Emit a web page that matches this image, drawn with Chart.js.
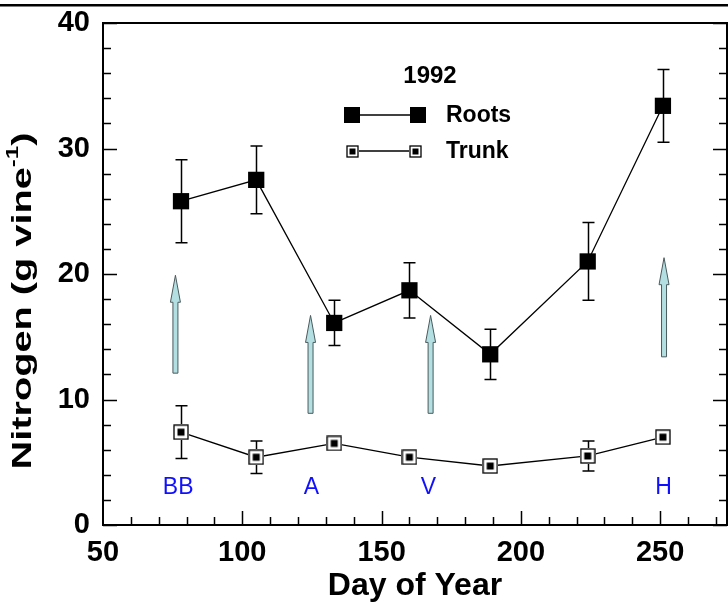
<!DOCTYPE html>
<html>
<head>
<meta charset="utf-8">
<script src="https://cdn.jsdelivr.net/npm/chart.js@4/dist/chart.umd.min.js"></script>
<style>
html,body{margin:0;padding:0;background:#fff;}
#wrap{width:728px;height:605px;position:relative;}
</style>
</head>
<body>
<div id="wrap"><canvas id="linegraph" width="728" height="605"></canvas></div>
<script>
// data
var days = [78, 105, 133, 160, 189, 224, 251];
var roots = [25.8, 27.5, 16.1, 18.7, 13.6, 21.0, 33.4];
var rootsErr = [3.3, 2.7, 1.8, 2.2, 2.0, 3.1, 2.9];
var trunk = [7.4, 5.4, 6.5, 5.4, 4.7, 5.5, 7.0];
var trunkErr = [2.1, 1.3, 0, 0, 0, 1.2, 0];
var stageDays = [77, 124.8, 166.8, 251.2];
var stageLabels = ["BB", "A", "V", "H"];
var arrowDays = [76, 124.5, 167.6, 251.4];
var arrowFrom = [12.1, 8.9, 8.9, 13.4];
var arrowTo = [19.9, 16.7, 16.7, 21.3];
var xTicks = [50, 100, 150, 200, 250];
var yTicks = [0, 10, 20, 30, 40];

var FONT = "'Liberation Sans', Arial, sans-serif";

// open square with small filled square inside
function trunkMarker(size, inner){
    var c = document.createElement("canvas");
    c.width = size; c.height = size;
    var g = c.getContext("2d");
    g.fillStyle = "#fff";
    g.fillRect(0, 0, size, size);
    g.strokeStyle = "#000";
    g.lineWidth = 1.3;
    g.strokeRect(1, 1, size - 2, size - 2);
    g.fillStyle = "#000";
    var o = (size - inner) / 2;
    g.fillRect(o, o, inner, inner);
    return c;
}
var trunkImg = trunkMarker(16, 7);
var trunkImgSmall = trunkMarker(13, 6);

function pts(ys){
    var out = [];
    for (var i in days) out.push({x: days[i], y: ys[i]});
    return out;
}

var decor = {
    id: "decor",
    beforeDatasetsDraw: function(chart){
        var ctx = chart.ctx, xs = chart.scales.x, ys = chart.scales.y;
        var a = chart.chartArea;
        ctx.save();
        // page rule at top
        ctx.fillStyle = "#000";
        ctx.fillRect(0, 4, 728, 2.5);
        // frame
        ctx.strokeStyle = "#000";
        ctx.lineWidth = 2;
        ctx.strokeRect(a.left, a.top, a.right - a.left, a.bottom - a.top);
        // inward ticks
        ctx.lineWidth = 1.5;
        ctx.beginPath();
        for (var v = 0; v <= 40; v += 2){
            var py = Math.round(ys.getPixelForValue(v)) + 0.5;
            var len = (v % 10 === 0) ? 14 : 8;
            ctx.moveTo(a.left, py); ctx.lineTo(a.left + len, py);
            ctx.moveTo(a.right, py); ctx.lineTo(a.right - len, py);
        }
        for (var d = 60; d <= 270; d += 10){
            var px = Math.round(xs.getPixelForValue(d)) + 0.5;
            var l2 = (d % 50 === 0) ? 14 : 8;
            ctx.moveTo(px, a.bottom); ctx.lineTo(px, a.bottom - l2);
        }
        ctx.stroke();
        // arrows
        for (var k in arrowDays){
            var ax = xs.getPixelForValue(arrowDays[k]);
            var yb = ys.getPixelForValue(arrowFrom[k]);
            var yt = ys.getPixelForValue(arrowTo[k]);
            ctx.beginPath();
            ctx.moveTo(ax - 2.5, yb);
            ctx.lineTo(ax - 2.5, yt + 27);
            ctx.lineTo(ax - 5, yt + 27);
            ctx.lineTo(ax, yt);
            ctx.lineTo(ax + 5, yt + 27);
            ctx.lineTo(ax + 2.5, yt + 27);
            ctx.lineTo(ax + 2.5, yb);
            ctx.closePath();
            ctx.fillStyle = "#b3dfe2";
            ctx.fill();
            ctx.strokeStyle = "#4a5a5c";
            ctx.lineWidth = 1;
            ctx.stroke();
        }
        // stage labels
        ctx.fillStyle = "#1010ff";
        ctx.font = "23px " + FONT;
        ctx.textAlign = "center";
        ctx.textBaseline = "middle";
        for (var s in stageLabels){
            ctx.fillText(stageLabels[s], xs.getPixelForValue(stageDays[s]), ys.getPixelForValue(2.95));
        }
        // error bars
        ctx.strokeStyle = "#000";
        ctx.lineWidth = 1.5;
        function bars(vals, errs){
            ctx.beginPath();
            for (var i in days){
                if (!errs[i]) continue;
                var x = Math.round(xs.getPixelForValue(days[i])) + 0.5;
                var t = ys.getPixelForValue(vals[i] + errs[i]);
                var b = ys.getPixelForValue(vals[i] - errs[i]);
                ctx.moveTo(x, t); ctx.lineTo(x, b);
                ctx.moveTo(x - 6, t); ctx.lineTo(x + 6, t);
                ctx.moveTo(x - 6, b); ctx.lineTo(x + 6, b);
            }
            ctx.stroke();
        }
        bars(roots, rootsErr);
        bars(trunk, trunkErr);
        ctx.restore();
    },
    afterDraw: function(chart){
        var ctx = chart.ctx;
        ctx.save();
        ctx.fillStyle = "#000";
        ctx.textBaseline = "middle";
        // legend
        ctx.font = "bold 24px " + FONT;
        ctx.textAlign = "center";
        ctx.fillText("1992", 430, 76);
        ctx.textAlign = "left";
        ctx.font = "bold 23px " + FONT;
        var ds = chart.data.datasets;
        var rowsY = [115, 151];
        for (var r = 0; r < 2; r++){
            var yy = rowsY[r];
            ctx.strokeStyle = "#000";
            ctx.lineWidth = 1.3;
            ctx.beginPath(); ctx.moveTo(352, yy); ctx.lineTo(418, yy); ctx.stroke();
            if (r === 0){
                ctx.fillRect(344, yy - 8, 16, 16);
                ctx.fillRect(410, yy - 8, 16, 16);
            } else {
                ctx.drawImage(trunkImgSmall, 346, yy - 6);
                ctx.drawImage(trunkImgSmall, 409, yy - 6);
            }
            ctx.fillText(ds[r].label, 446, yy + 1);
        }
        // y title with superscript, stretched along its length
        ctx.translate(23, 301);
        ctx.rotate(-Math.PI / 2);
        var big = "bold 28px " + FONT, small = "bold 17px " + FONT;
        ctx.font = big;
        var p1 = "Nitrogen (g vine", sup = "-1", p2 = ")";
        var w1 = ctx.measureText(p1).width;
        var w2 = ctx.measureText(p2).width;
        ctx.font = small;
        var ws = ctx.measureText(sup).width;
        var total = w1 + ws + w2;
        ctx.scale(337 / total, 1);
        var x0 = -total / 2;
        ctx.font = big;
        ctx.fillText(p1, x0, 0);
        ctx.fillText(p2, x0 + w1 + ws, 0);
        ctx.font = small;
        ctx.fillText(sup, x0 + w1, -10);
        ctx.restore();
    }
};

var ctx = document.getElementById("linegraph");
var chart = new Chart(ctx, {
    type: "line",
    data: {
        datasets: [{
            label: "Roots",
            data: pts(roots),
            borderColor: "#000",
            borderWidth: 1.3,
            backgroundColor: "#000",
            pointStyle: "rect",
            pointRadius: 11.5,
            pointBorderWidth: 0,
            lineTension: 0,
            fill: false
        }, {
            label: "Trunk",
            data: pts(trunk),
            borderColor: "#000",
            borderWidth: 1.3,
            pointStyle: trunkImg,
            lineTension: 0,
            fill: false
        }]
    },
    options: {
        responsive: false,
        animation: false,
        events: [],
        layout: {autoPadding: false, padding: {top: 23, right: 1, left: 0, bottom: 0}},
        plugins: {legend: {display: false}, tooltip: {enabled: false}},
        scales: {
            x: {
                type: "linear",
                min: 50, max: 274,
                grid: {display: false, drawTicks: false},
                border: {display: false},
                afterBuildTicks: function(s){ s.ticks = xTicks.map(function(v){ return {value: v}; }); },
                ticks: {color: "#000", font: {family: FONT, size: 29, weight: "bold"}, padding: 11, maxRotation: 0, autoSkip: false},
                title: {display: true, text: "Day of Year", color: "#000", font: {family: FONT, size: 32, weight: "bold"}, padding: {top: 4, bottom: 0}},
                afterFit: function(s){ s.height = 80; s.paddingLeft = 0; s.paddingRight = 0; }
            },
            y: {
                min: 0, max: 40,
                grid: {display: false, drawTicks: false},
                border: {display: false},
                afterBuildTicks: function(s){ s.ticks = yTicks.map(function(v){ return {value: v}; }); },
                ticks: {color: "#000", font: {family: FONT, size: 29, weight: "bold"}, padding: 13},
                afterFit: function(s){ s.width = 103; s.paddingTop = 0; s.paddingBottom = 0; }
            }
        }
    },
    plugins: [decor]
});
</script>
</body>
</html>
